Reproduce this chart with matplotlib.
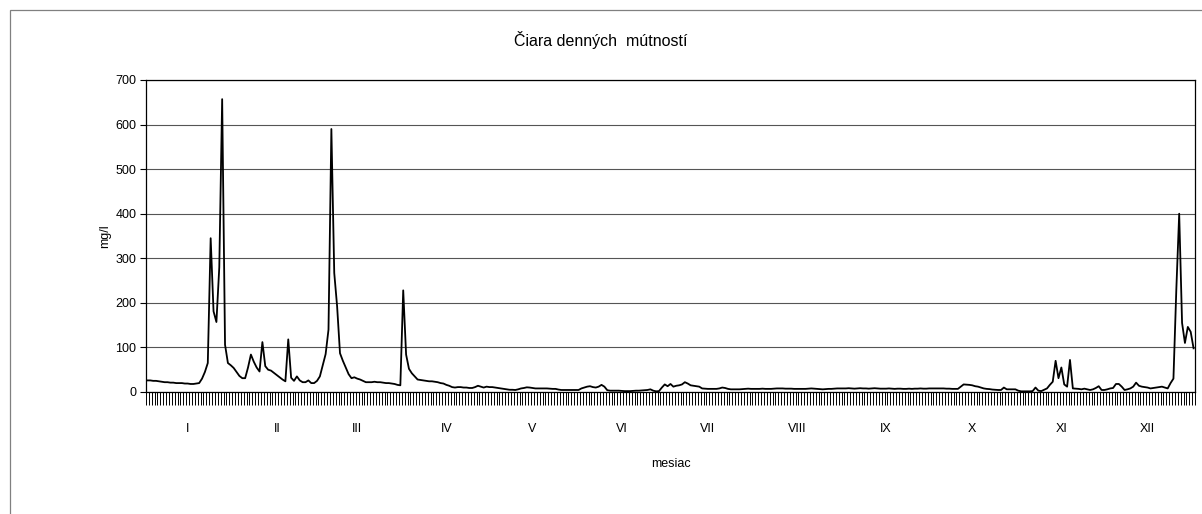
import numpy as np
import matplotlib
matplotlib.use("Agg")
import matplotlib.pyplot as plt
from matplotlib.patches import Rectangle

plt.rcParams["font.family"] = ["Liberation Sans", "DejaVu Sans"]

# denné hodnoty zákalu (mg/l), po mesiacoch
jan = [26, 26, 25, 25, 24, 23, 22, 22, 21, 21, 20, 20, 20, 19, 19, 18, 18, 19,
       20, 30, 45, 65, 345, 181, 157, 280, 657, 106, 65, 60, 54]
feb = [45, 36, 31, 31, 55, 84, 68, 55, 46, 112, 58, 50, 48, 43, 38, 33, 28, 24,
       118, 32, 25, 35, 26, 22, 22, 26, 20, 20]
mar = [25, 35, 60, 85, 140, 590, 267, 192, 87, 70, 55, 40, 31, 33, 30, 28, 25,
       22, 22, 22, 23, 22, 22, 21, 20, 20, 19, 18, 16, 15, 228]
apr = [84, 52, 42, 35, 28, 27, 26, 25, 24, 24, 23, 22, 20, 19, 16, 14, 11, 10,
       11, 11, 10, 10, 9, 9, 11, 14, 12, 10, 12, 11]
may = [11, 10, 9, 8, 7, 6, 5, 5, 4.5, 6, 8, 9, 10.5, 10, 9, 8, 8, 8, 8, 8, 7.5,
       7, 7, 5.5, 4.5, 4.5, 4.5, 4.5, 4.5, 4.5, 4.5]
jun = [8, 10, 12, 13, 11, 10, 12, 16, 12, 4, 3, 3, 3, 3, 2.5, 2, 2, 2, 2.5, 3,
       3, 3.5, 4, 4.5, 6, 3, 1.5, 2, 10, 17]
jul = [13, 18, 12, 14, 15, 17, 22, 19, 15, 14, 13, 12, 8, 7.5, 7, 7, 7, 7, 8,
       10, 9, 7, 6, 6, 6, 6, 6.5, 7, 7.5, 7, 7]
aug = [7, 7, 7.5, 7, 7, 7, 7.5, 8, 8, 8, 7.5, 7.5, 7.5, 7, 7, 7, 7, 7, 7.5, 8,
       7.5, 7, 6.5, 6, 6.5, 7, 7, 7.5, 8, 8, 8]
sep = [8, 8.5, 8, 7.5, 8, 8.5, 8, 8, 7.5, 8, 8.5, 8, 7.5, 7.5, 7.5, 8, 7.5, 7,
       7.5, 7.5, 7, 7, 7.5, 7, 7.5, 7.5, 8, 7.5, 7.5, 8]
okt = [8, 8, 8, 8, 8, 7.5, 7.5, 7, 7, 7, 12, 17, 16.5, 16, 15, 13, 12, 10, 8,
       7, 6.5, 5.5, 5, 4.5, 4.5, 10, 6, 6, 6, 6, 3]
nov = [1.5, 1.5, 1.5, 1.5, 2, 10, 3, 2, 5, 8, 16, 23, 70, 31, 55, 17, 12, 72,
       8, 7.5, 7, 6, 7.5, 6, 4.5, 6, 9, 13, 4.5, 4.5]
dec = [6, 8, 9, 18, 18, 12, 4.5, 6, 8, 12, 21, 14, 12, 11, 10, 8, 9, 10, 11,
       12, 10, 8, 20, 30, 230, 400, 155, 110, 146, 135, 98]

months = [jan, feb, mar, apr, may, jun, jul, aug, sep, okt, nov, dec]
month_labels = ["I", "II", "III", "IV", "V", "VI", "VII", "VIII", "IX", "X",
                "XI", "XII"]

values = np.concatenate(months)
days = np.arange(len(values))
month_len = np.array([len(m) for m in months])
month_start = np.concatenate([[0], np.cumsum(month_len)[:-1]])

W, H = 1202, 514
fig = plt.figure(figsize=(W / 100, H / 100), dpi=100)
ax = fig.add_axes([146 / W, 1 - 392 / H, (1195 - 146) / W, (392 - 80) / H])

ax.plot(days, values, color="black", lw=1.3)

ax.set_xlim(-0.5, len(values) - 0.5)
ax.set_ylim(0, 700)
ax.set_yticks(np.arange(0, 701, 100))
ax.grid(axis="y", color="#555555", lw=0.8)

ax.set_xticks(month_start + 14)
ax.set_xticklabels(month_labels)
ax.set_xticks(np.arange(-0.5, len(values)), minor=True)
ax.tick_params(axis="x", which="major", length=0, pad=22, labelsize=9)
ax.tick_params(axis="x", which="minor", length=9, width=0.7, direction="out")
ax.tick_params(axis="y", length=4, width=0.8, pad=3, labelsize=9)

for s in ax.spines.values():
    s.set_linewidth(0.9)

ax.set_ylabel("mg/l", fontsize=9, labelpad=3)
ax.set_xlabel("mesiac", fontsize=9, labelpad=17)
fig.text(0.5, 1 - 40 / H, "Čiara denných  mútností", ha="center",
         va="center", fontsize=11.5)

# okraj oblasti grafu
fig.patches.append(Rectangle((10 / W, -0.2), 1.2, (H - 10) / H + 0.2,
                             transform=fig.transFigure, fill=False,
                             edgecolor="#808080", lw=0.9))

fig.savefig("out.png", dpi=100)
